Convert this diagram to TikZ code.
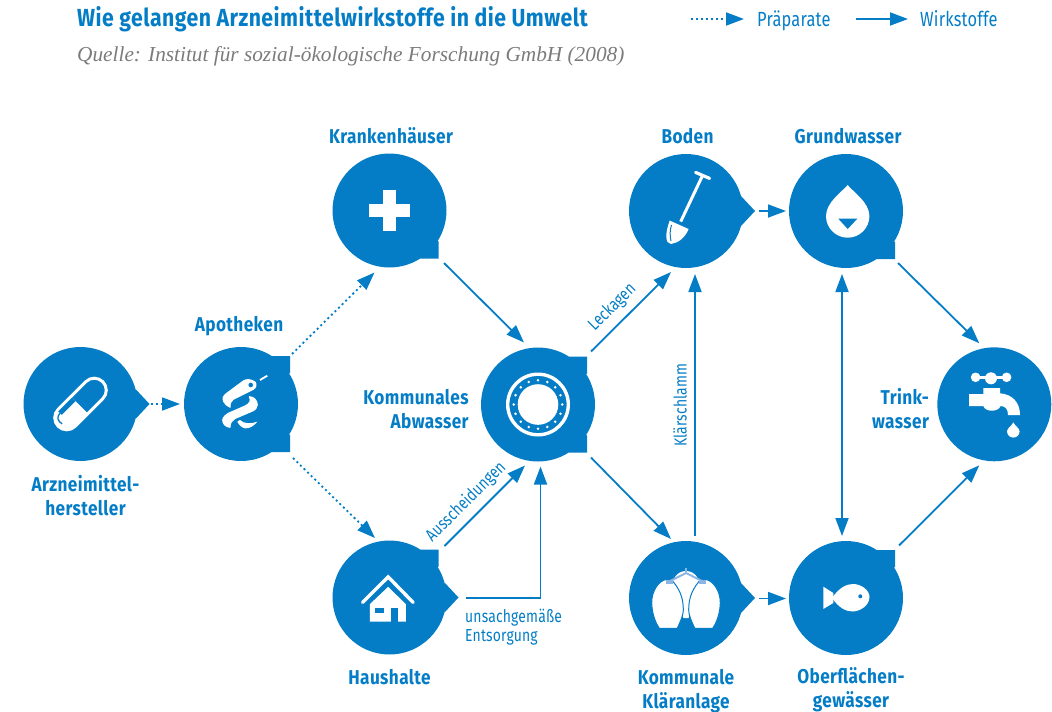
\documentclass[tikz,border=0pt]{standalone}
\usepackage{fontspec}
\setmainfont{Fira Sans}
\newfontfamily\kopffont[FakeStretch=0.86,LetterSpace=2]{Fira Sans}
\newfontfamily\duennfont[FakeStretch=0.8,LetterSpace=1]{Fira Sans}
\newfontfamily\quellefont{Liberation Serif}
\usetikzlibrary{arrows.meta, positioning}
\definecolor{wasser}{HTML}{047DC6}
\definecolor{rohr}{HTML}{8DB4E2}
\definecolor{quelle}{HTML}{7B7B7B}
\newcommand{\tailcorner}[3]{\fill[wasser] (#1.center) -- ([shift={(#2*31,#3*48)}]#1.center) -- ([shift={(#2*49,#3*48)}]#1.center) -- ([shift={(#2*49,#3*31)}]#1.center) -- cycle;}
\newcommand{\tailpoint}[1]{\fill[wasser] ([shift={(55,-15)}]#1.center) -- ([shift={(69,0)}]#1.center) -- ([shift={(55,15)}]#1.center) -- cycle;}
\begin{document}
\begin{tikzpicture}[
    x=1pt, y=-1pt,
    >={Triangle[length=18pt,width=13pt]},
    bubble/.style={circle,fill=wasser,minimum size=114pt,inner sep=0pt},
    kopf/.style={text=wasser,inner sep=0pt,align=center,font=\kopffont\bfseries\fontsize{20}{24}\selectfont},
    duenn/.style={text=wasser,inner sep=0pt,font=\duennfont\fontsize{17.4}{19}\selectfont},
    legende/.style={text=wasser,inner sep=0pt,anchor=base west,font=\duennfont\fontsize{20.5}{24}\selectfont},
    wirk/.style={->,draw=wasser,line width=1.8pt},
    praep/.style={wirk,dash pattern=on 2pt off 3pt},
    icon/.style={fill=white,draw=none},
    iconline/.style={draw=white,line width=#1,fill=none},
    node distance=8pt
]
\useasboundingbox (0,0) rectangle (1052,712);

\node[bubble] (arz) at (80.5,404) {};
\node[bubble] (apo) at (241,404) {};
\node[bubble] (kh) at (389.5,210.5) {};
\node[bubble] (hh) at (389.5,597.5) {};
\node[bubble] (abw) at (538,404.5) {};
\node[bubble] (bod) at (686,211) {};
\node[bubble] (grw) at (846,211) {};
\node[bubble] (kla) at (686,598) {};
\node[bubble] (obf) at (846,598) {};
\node[bubble] (tri) at (994.3,404.3) {};

\tailpoint{arz}
\tailpoint{bod}
\tailpoint{kla}
\tailpoint{hh}
\tailcorner{apo}{1}{-1}
\tailcorner{apo}{1}{1}
\tailcorner{kh}{1}{1}
\tailcorner{hh}{1}{-1}
\tailcorner{abw}{1}{-1}
\tailcorner{abw}{1}{1}
\tailcorner{grw}{1}{1}
\tailcorner{obf}{1}{-1}

\node[kopf, above=9pt of kh, xshift=1.5pt] (khL) {Krankenhäuser};
\node[kopf, above=11pt of apo, xshift=-2pt] (apoL) {Apotheken};
\node[kopf, above=10pt of bod, xshift=1.5pt] (bodL) {Boden};
\node[kopf, above=10pt of grw, xshift=2pt] (grwL) {Grundwasser};
\node[kopf, below=13.5pt of arz, xshift=5pt] (arzL) {Arzneimittel-\\hersteller};
\node[kopf, below=14pt of hh] (hhL) {Haushalte};
\node[kopf, below=14pt of kla] (klaL) {Kommunale\\Kläranlage};
\node[kopf, below=12.5pt of obf, xshift=5pt] (obfL) {Oberflächen-\\gewässer};
\node[kopf, align=right, left=12pt of abw, yshift=-5pt] (abwL) {Kommunales\\Abwasser};
\node[kopf, align=right, left=8pt of tri, yshift=-4pt] (triL) {Trink-\\wasser};

\draw[praep] ([shift={(70,0)}]arz.center) -- ([shift={(-61,0)}]apo.center);
\draw[praep] ([shift={(51,-50)}]apo.center) -- ([shift={(-15,62)}]kh.center);
\draw[praep] ([shift={(52,54)}]apo.center) -- ([shift={(-14.5,-59.5)}]hh.center);
\draw[wirk] ([shift={(54.5,52.5)}]kh.center) -- ([shift={(-14,-62)}]abw.center);
\draw[wirk] ([shift={(55,-51.5)}]hh.center) -- ([shift={(-13,61)}]abw.center);
\draw[wirk] ([shift={(76,0.5)}]hh.center) -| ([shift={(2.5,62)}]abw.center);
\draw[wirk] ([shift={(53,-53)}]abw.center) -- ([shift={(-15,61)}]bod.center);
\draw[wirk] ([shift={(53,53)}]abw.center) -- ([shift={(-15,-59)}]kla.center);
\draw[wirk] ([shift={(9,-62)}]kla.center) -- ([shift={(9,63)}]bod.center);
\draw[wirk] ([shift={(73,0)}]bod.center) -- ([shift={(-60,0)}]grw.center);
\draw[wirk] ([shift={(73,0.5)}]kla.center) -- ([shift={(-60,0.5)}]obf.center);
\draw[wirk,<->] ([shift={(-4,63)}]grw.center) -- ([shift={(-4,-62)}]obf.center);
\draw[wirk] ([shift={(52,52)}]grw.center) -- ([shift={(-15,-61)}]tri.center);
\draw[wirk] ([shift={(53,-52.5)}]obf.center) -- ([shift={(-15,61)}]tri.center);

\node[duenn, rotate=45] (leckL) at (612.5,307.5) {Leckagen};
\node[duenn, rotate=45] (ausL) at (466,502) {Ausscheidungen};
\node[duenn, rotate=90] (schlL) at (680,405) {Klärschlamm};
\node[duenn, align=left, anchor=west] (entL) at (465,627) {unsachgemäße\\Entsorgung};

\node[anchor=west, inner sep=0pt, text=wasser, font=\kopffont\bfseries\fontsize{24.7}{28}\selectfont] (titel) at (77,19) {Wie gelangen Arzneimittelwirkstoffe in die Umwelt};
\node[anchor=west, inner sep=0pt, text=quelle, font=\quellefont\itshape\fontsize{21.3}{24}\selectfont] (quelleL) at (77,56) {Quelle: Institut für sozial-ökologische Forschung GmbH (2008)};

\node[legende] (lgP) at (757,26.5) {Präparate};
\node[legende] (lgW) at (920,26.5) {Wirkstoffe};
\coordinate (lgPs) at (691,19);
\coordinate (lgWs) at (856,19);
\draw[praep] (lgPs) -- (744,19);
\draw[wirk] (lgWs) -- (908,19);

% pille
\begin{scope}[shift={(arz.center)}, rotate=45]
    \begin{scope}
        \clip (-40,-20) rectangle (-1.5,20);
        \fill[white, rounded corners=12pt] (-31.5,-12) rectangle (31.5,12);
    \end{scope}
    \draw[iconline=3pt, rounded corners=12pt] (-31.5,-12) rectangle (31.5,12);
    \fill[wasser] (-21,-10.5) rectangle (-1.5,-5.5);
    \draw[wasser, line width=1.3pt] (-21,-8) .. controls (-26,-8) and (-28.5,-4) .. (-27,1);
\end{scope}

% schlange
\begin{scope}[shift={(apo.center)}]
    \filldraw[white, line width=1pt, line join=round] (14,-22) .. controls (10,-25) and (5,-25) .. (2.3,-23) -- (-14.3,-10.7) .. controls (-18,-8) and (-19,-5) .. (-17.7,-3) .. controls (-16,0) and (-14,2) .. (-11,3.3) .. controls (-11,-1) and (-10,-3) .. (-7.7,-4.7) -- (12.3,-14.7) .. controls (15,-16) and (16,-20) .. cycle;
    \filldraw[white, line width=1pt, line join=round] (8.3,-7.3) .. controls (13,-7.5) and (16.5,-3) .. (16.3,1) .. controls (16,4) and (14,6) .. (12.3,6.7) -- (-6,14.5) .. controls (-9,16) and (-11,19) .. (-11,23.3) .. controls (-15,23) and (-18.5,20) .. (-18.3,16) .. controls (-18,13) and (-15,10.5) .. (-12.7,9.3) -- (4,2) .. controls (8,0) and (11,-3) .. (8.3,-7.3) -- cycle;
    \fill[icon] (-1,16) .. controls (3,20) and (10,20) .. (16.3,17.7) .. controls (13,22) and (8,25) .. (4,24.3) .. controls (1,24) and (-2,21) .. (-3.7,17.7) -- cycle;
    \fill[wasser] (9.7,-19) circle (2.3);
    \draw[iconline=1.8pt] (19,-24) -- (26.3,-28.3);
\end{scope}

% kreuz
\begin{scope}[shift={(kh.center)}]
    \fill[icon] (-20.5,-6.7) rectangle (20.5,6.7);
    \fill[icon] (-6.7,-20.5) rectangle (6.7,20.5);
\end{scope}

% haus
\begin{scope}[shift={(hh.center)}]
    \draw[iconline=3.4pt, line cap=round] (-27,5) -- (-1.3,-20.6) -- (23.7,5);
    \fill[icon] (-19.7,6.7) -- (-1.3,-10.7) -- (16.3,6.7) -- (16.3,24) -- (-19.7,24) -- cycle;
    \fill[wasser] (-14.7,10) rectangle (-5.3,15.7);
    \fill[wasser] (1,10) rectangle (8.7,24);
\end{scope}

% ring
\begin{scope}[shift={(abw.center)}]
    \draw[iconline=3.4pt] (0,0) circle (30.3);
    \fill[icon] (0,0) circle (20.3);
    \foreach \w in {0,22.5,...,337.5}
        \fill[icon] (\w:24.3) circle (1.4);
\end{scope}

% spaten
\begin{scope}[shift={(bod.center)}]
    \draw[iconline=3.2pt, line cap=round] (9.6,-38.6) -- (23.6,-32.6);
    \draw[iconline=3pt] (16.6,-35.6) -- (-5.3,10.6);
    \fill[icon] (-16.3,9.6) -- (2.6,18) .. controls (-1,27) and (-8,32) .. (-15,33) .. controls (-21,33) and (-21,22) .. cycle;
    \draw[wasser, line width=1pt] (-14.5,14) .. controls (-16.5,20) and (-16,25) .. (-15,30);
\end{scope}

% tropfen
\begin{scope}[shift={(grw.center)}]
    \fill[icon] (1.7,-26) .. controls (6,-20) and (23.4,-9) .. (23.4,5) arc (0:180:21.7) .. controls (-20,-9) and (-3,-20) .. cycle;
    \fill[wasser] (-7.7,7.7) -- (11.3,7.7) -- (1.7,18) -- cycle;
\end{scope}

% faulbehaelter
\begin{scope}[shift={(kla.center)}]
    \fill[icon] (-11,-21) .. controls (-6,-29) and (6,-29) .. (11,-21) -- (14,-16) -- (8,5) -- (2.5,20) -- (-2.5,20) -- (-8,5) -- (-14,-16) -- cycle;
    \foreach \s in {-1,1} {
        \begin{scope}[xscale=\s]
            \filldraw[fill=white, draw=wasser, line width=1pt] (20,-18.5) .. controls (28,-17) and (34.5,-6) .. (34.3,5) .. controls (34,15) and (31,24) .. (26.7,30.3) -- (8.7,30.3) .. controls (5,22) and (2.7,17) .. (2.7,12) .. controls (2.7,4) and (4,-6) .. (13,-16.5) .. controls (15,-18) and (18,-19) .. (20,-18.5) -- cycle;
            \draw[rohr, line width=2pt] (0,-25) -- (17,-16.5);
            \fill[rohr] (13,-18) rectangle (20,-14);
        \end{scope}
    }
    \draw[rohr, line width=2pt] (0,-30) -- (0,-25);
\end{scope}

% fisch
\begin{scope}[shift={(obf.center)}]
    \fill[icon] (-22.7,-11.3) -- (-12.7,-5) -- (-12.7,5) -- (-22.7,11) -- cycle;
    \fill[icon] (-14,0) .. controls (-7,-10) and (0,-14) .. (7,-14) .. controls (15,-14) and (23.5,-8) .. (23.5,-1) .. controls (23.5,7) and (15,13) .. (7,13.5) .. controls (0,13.5) and (-7,10) .. (-14,0) -- cycle;
    \fill[wasser] (14.3,-1.7) circle (2);
\end{scope}

% hahn
\begin{scope}[shift={(tri.center)}]
    \fill[icon] (-18.7,-27) circle (4.8);
    \fill[icon] (12.3,-27) circle (4.8);
    \fill[icon] (-3.3,-26) circle (6);
    \fill[icon] (-18.7,-28.5) rectangle (12.3,-25.5);
    \fill[icon] (-25.3,-10.3) -- (-11,-10.3) -- (-11,-16.3) -- (5.7,-16.3) -- (5.7,-11) .. controls (18,-10) and (25.7,-2) .. (25.7,10.7) -- (13.7,10.7) .. controls (13.7,5) and (11,1.7) .. (6.3,1.7) .. controls (4,8) and (-9,8) .. (-11,1.7) -- (-25.3,1.7) -- cycle;
    \fill[icon] (19,18) .. controls (20,21) and (25.3,24) .. (25.3,27) arc (0:180:6.3) .. controls (12.7,24) and (18,21) .. cycle;
\end{scope}

\end{tikzpicture}
\end{document}
